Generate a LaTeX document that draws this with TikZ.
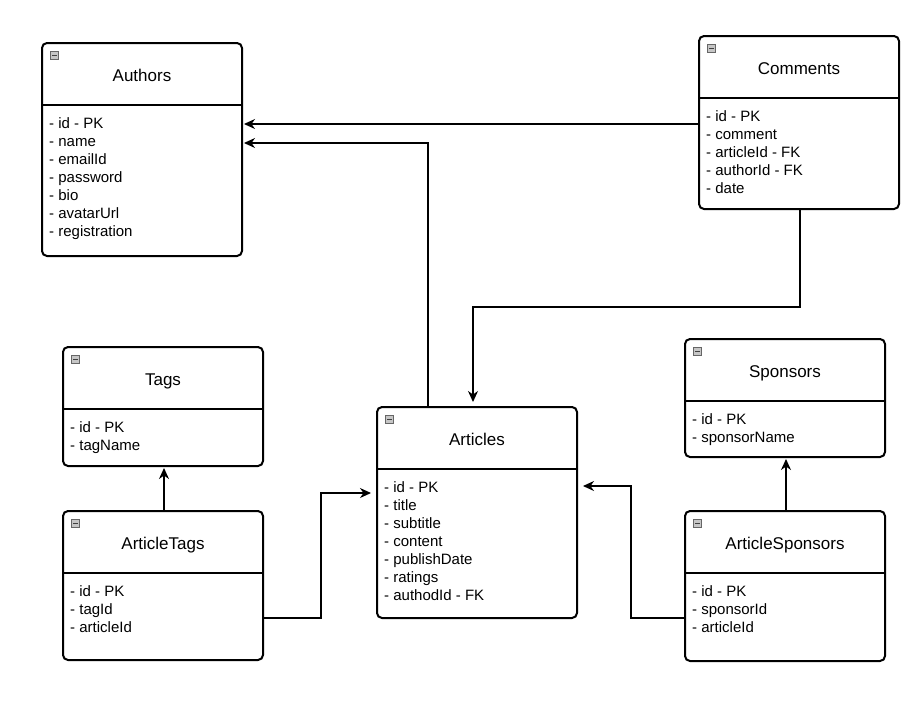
\documentclass[tikz,border=0pt]{standalone}
\usepackage{fontspec}
\setmainfont{Liberation Sans}
\usetikzlibrary{arrows.meta,calc}
\tikzset{
  entbox/.style={draw=black, line width=2pt, rounded corners=5pt, minimum width=200pt, outer sep=0pt, inner sep=0pt, anchor=north west, fill=white},
  divider/.style={line width=2pt},
  enttitle/.style={font=\fontsize{17}{20}\selectfont, text height=12.2pt, text depth=0pt, inner sep=0pt, anchor=center},
  entattr/.style={font=\fontsize{15}{18}\selectfont, align=left, inner sep=0pt, anchor=north west},
  icon/.style={draw=gray!80!black, fill=gray!45, line width=0.6pt, minimum size=8pt, inner sep=0pt, outer sep=0pt,
    path picture={\draw[black!75, line width=1.2pt] ([xshift=1.5pt]path picture bounding box.west) -- ([xshift=-1.5pt]path picture bounding box.east);}},
  arr/.style={line width=1.2pt, -{Stealth[length=11pt,width=10pt,inset=3.5pt]}}
}
\newcommand{\entity}[6]{%
  \node[entbox, minimum height=#4pt] (#1) at (#2,#3) {};
  \draw[divider] ([yshift=-62pt]#1.north west) -- ([yshift=-62pt]#1.north east);
  \node[icon] (#1-icon) at ([xshift=12.5pt,yshift=-12.5pt]#1.north west) {};
  \node[enttitle] (#1-title) at ([yshift=-32pt]#1.north) {#5};
  \node[entattr] (#1-attrs) at ([xshift=7pt,yshift=-74.5pt]#1.north west) {#6};
}
\begin{document}
\begin{tikzpicture}[x=1pt,y=-1pt]
\useasboundingbox (0,0) rectangle (910,715);
\fill[white] (0,0) rectangle (910,715);

\entity{authors}{42}{43}{213}{Authors}{- id - PK\\- name\\- emailId\\- password\\- bio\\- avatarUrl\\- registration}
\entity{comments}{699}{36}{173}{Comments}{- id - PK\\- comment\\- articleId - FK\\- authorId - FK\\- date}
\entity{tags}{63}{347}{119}{Tags}{- id - PK\\- tagName}
\entity{articletags}{63}{511}{149}{ArticleTags}{- id - PK\\- tagId\\- articleId}
\entity{articles}{377}{407}{211}{Articles}{- id - PK\\- title\\- subtitle\\- content\\- publishDate\\- ratings\\- authodId - FK}
\entity{sponsors}{685}{339}{118}{Sponsors}{- id - PK\\- sponsorName}
\entity{artsponsors}{685}{511}{150}{ArticleSponsors}{- id - PK\\- sponsorId\\- articleId}

\draw[arr, shorten >=2pt] (comments.west |- 0,124) -- (authors.east |- 0,124);
\draw[arr, shorten >=2pt] (articles.north -| 428,0) |- (authors.east |- 0,143);
\draw[arr, shorten >=5pt] (comments.south -| 800,0) |- (473,307) -- (articles.north -| 473,0);
\draw[arr, shorten >=2pt] (articletags.north -| 164,0) -- (tags.south -| 164,0);
\draw[arr, shorten >=6pt] (articletags.east |- 0,618) -| (321,493) -- (articles.west |- 0,493);
\draw[arr, shorten >=6pt] (artsponsors.west |- 0,618) -| (631,486) -- (articles.east |- 0,486);
\draw[arr, shorten >=2pt] (artsponsors.north -| 786,0) -- (sponsors.south -| 786,0);
\end{tikzpicture}
\end{document}
